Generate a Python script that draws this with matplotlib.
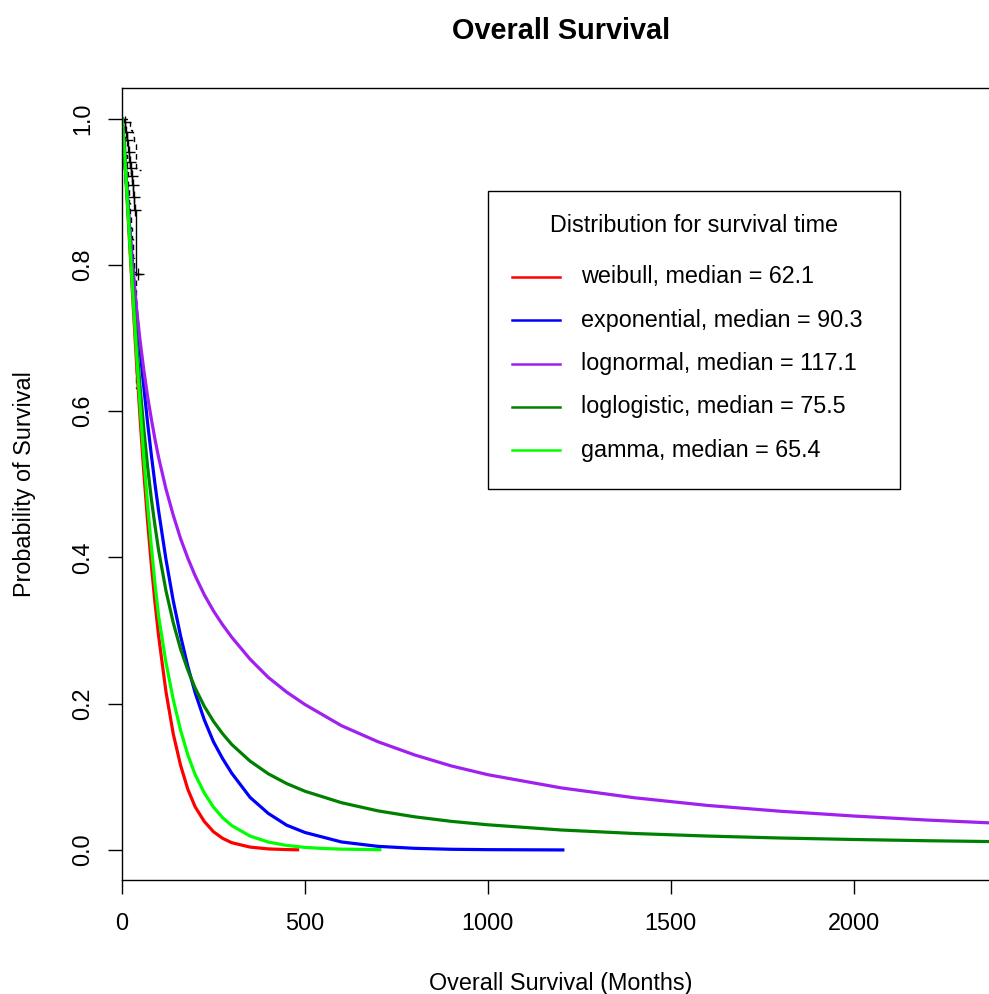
import matplotlib.pyplot as plt
from matplotlib.patches import Rectangle
from matplotlib.lines import Line2D

plt.rcParams['font.family'] = ['Liberation Sans', 'DejaVu Sans']

# Kaplan-Meier estimate (months, survival) with 95% limits
km_tempo = [0, 5, 9, 13, 16, 19, 22, 25, 28, 31, 34, 37, 52]
km_surv = [1.0, 0.995, 0.982, 0.971, 0.955, 0.941, 0.933, 0.921, 0.910, 0.893, 0.875, 0.788, 0.788]
km_sup = [1.0, 1.0, 1.0, 1.0, 0.998, 0.995, 0.99, 0.985, 0.982, 0.975, 0.965, 0.93, 0.93]
km_inf = [1.0, 0.975, 0.95, 0.93, 0.905, 0.885, 0.87, 0.85, 0.835, 0.81, 0.79, 0.632, 0.632]
censura_t = [7, 11, 15, 18, 21, 24, 27, 30, 33, 36, 45]
censura_s = [0.995, 0.982, 0.971, 0.955, 0.941, 0.933, 0.921, 0.910, 0.893, 0.875, 0.788]

# curvas ajustadas (months, survival)
weibull_t = [0, 5, 10, 20, 30, 40, 50, 60, 70, 80, 90, 100, 120, 140, 160, 180, 200,
             225, 250, 275, 300, 350, 400, 450, 480]
weibull_s = [1.0, 0.967, 0.925, 0.837, 0.749, 0.664, 0.586, 0.514, 0.449, 0.391, 0.339,
             0.293, 0.217, 0.159, 0.116, 0.083, 0.059, 0.039, 0.025, 0.016, 0.010, 0.004,
             0.0015, 0.0006, 0.0003]

expo_t = [0, 5, 10, 20, 30, 40, 50, 60, 70, 80, 90, 100, 120, 140, 160, 180, 200, 225,
          250, 275, 300, 350, 400, 450, 500, 600, 700, 800, 900, 1000, 1205]
expo_s = [1.0, 0.962, 0.926, 0.858, 0.794, 0.736, 0.681, 0.631, 0.584, 0.541, 0.501,
          0.464, 0.398, 0.341, 0.293, 0.251, 0.215, 0.178, 0.148, 0.125, 0.105, 0.072,
          0.050, 0.034, 0.024, 0.011, 0.005, 0.0023, 0.001, 0.0005, 0.0001]

lognorm_t = [0, 5, 10, 20, 30, 40, 50, 60, 70, 80, 90, 100, 120, 140, 160, 180, 200, 225,
             250, 275, 300, 350, 400, 450, 500, 600, 700, 800, 900, 1000, 1200, 1400,
             1600, 1800, 2000, 2200, 2400]
lognorm_s = [1.0, 0.970, 0.928, 0.854, 0.791, 0.739, 0.694, 0.655, 0.620, 0.590, 0.562,
             0.537, 0.494, 0.458, 0.426, 0.399, 0.375, 0.349, 0.327, 0.308, 0.291, 0.261,
             0.236, 0.216, 0.199, 0.170, 0.148, 0.130, 0.115, 0.103, 0.085, 0.0715,
             0.061, 0.053, 0.0465, 0.041, 0.0365]

loglog_t = [0, 5, 10, 20, 30, 40, 50, 60, 70, 80, 90, 100, 120, 140, 160, 180, 200, 225,
            250, 275, 300, 350, 400, 450, 500, 600, 700, 800, 900, 1000, 1200, 1400,
            1600, 1800, 2000, 2200, 2400]
loglog_s = [1.0, 0.971, 0.931, 0.847, 0.767, 0.694, 0.630, 0.574, 0.524, 0.481, 0.444,
            0.410, 0.355, 0.311, 0.275, 0.246, 0.2215, 0.1965, 0.176, 0.159, 0.1443,
            0.1216, 0.1042, 0.0909, 0.0804, 0.0647, 0.0535, 0.0454, 0.0392, 0.0345,
            0.0274, 0.0226, 0.0191, 0.0164, 0.0144, 0.0127, 0.0114]

gamma_t = [0, 5, 10, 20, 30, 40, 50, 60, 70, 80, 90, 100, 120, 140, 160, 180, 200, 225,
           250, 275, 300, 350, 400, 450, 500, 550, 600, 705]
gamma_s = [1.0, 0.966, 0.926, 0.841, 0.757, 0.677, 0.603, 0.534, 0.472, 0.416, 0.365,
           0.320, 0.257, 0.206, 0.164, 0.130, 0.103, 0.078, 0.0587, 0.0442, 0.0334,
           0.0191, 0.0109, 0.0063, 0.0036, 0.0021, 0.0012, 0.0004]

rotulos = ["weibull, median = 62.1", "exponential, median = 90.3",
           "lognormal, median = 117.1", "loglogistic, median = 75.5",
           "gamma, median = 65.4"]
cores = ["#FF0000", "#0000FF", "#A020F0", "#008000", "#00FF00"]

W, H = 989, 994
fig = plt.figure(figsize=(W / 100, H / 100), dpi=100)
ax = fig.add_axes([122 / W, 114 / H, 878 / W, 792 / H])

ax.step(km_tempo, km_surv, where='post', color='black', lw=1)
ax.step(km_tempo, km_sup, where='post', color='black', lw=1, ls=(0, (4, 3)))
ax.step(km_tempo, km_inf, where='post', color='black', lw=1, ls=(0, (4, 3)))
ax.plot(censura_t, censura_s, ls='none', marker='+', ms=9, mew=1, color='black')

curvas = [(weibull_t, weibull_s), (expo_t, expo_s), (lognorm_t, lognorm_s),
          (loglog_t, loglog_s), (gamma_t, gamma_s)]
for (t, s), cor in zip(curvas, cores):
    ax.plot(t, s, color=cor, lw=2.3)

ax.set_xlim(0, 2400)
ax.set_ylim(-0.041, 1.042)
ax.set_xticks([0, 500, 1000, 1500, 2000])
ax.set_yticks([0, 0.2, 0.4, 0.6, 0.8, 1.0])
ax.set_yticklabels(["0.0", "0.2", "0.4", "0.6", "0.8", "1.0"], rotation=90, va='center')
ax.tick_params(length=10, width=1, labelsize=16.8)
ax.tick_params(axis='x', pad=13)
ax.tick_params(axis='y', pad=10)
for sp in ax.spines.values():
    sp.set_linewidth(1)

ax.set_title("Overall Survival", fontsize=20.8, fontweight='bold', pad=35)
ax.set_xlabel("Overall Survival (Months)", fontsize=16.8, labelpad=27)
ax.set_ylabel("Probability of Survival", fontsize=16.8, labelpad=25)

# legenda desenhada em pixels da figura
def fx(x):
    return x / W

def fy(y):
    return 1 - y / H

fig.patches.append(Rectangle((fx(488), fy(489)), fx(900) - fx(488), fy(191) - fy(489),
                             transform=fig.transFigure, fill=True, facecolor='white',
                             edgecolor='black', lw=1, zorder=5))
fig.text(fx(694), fy(226), "Distribution for survival time", fontsize=16.8,
         ha='center', va='center', zorder=6)
for i, (rot, cor) in enumerate(zip(rotulos, cores)):
    yy = 277 + i * 43.3
    fig.lines.append(Line2D([fx(512), fx(560)], [fy(yy), fy(yy)], color=cor, lw=1.8,
                            transform=fig.transFigure, zorder=6))
    fig.text(fx(581), fy(yy), rot, fontsize=16.8, ha='left', va='center', zorder=6)

fig.savefig("out.png", dpi=100)
